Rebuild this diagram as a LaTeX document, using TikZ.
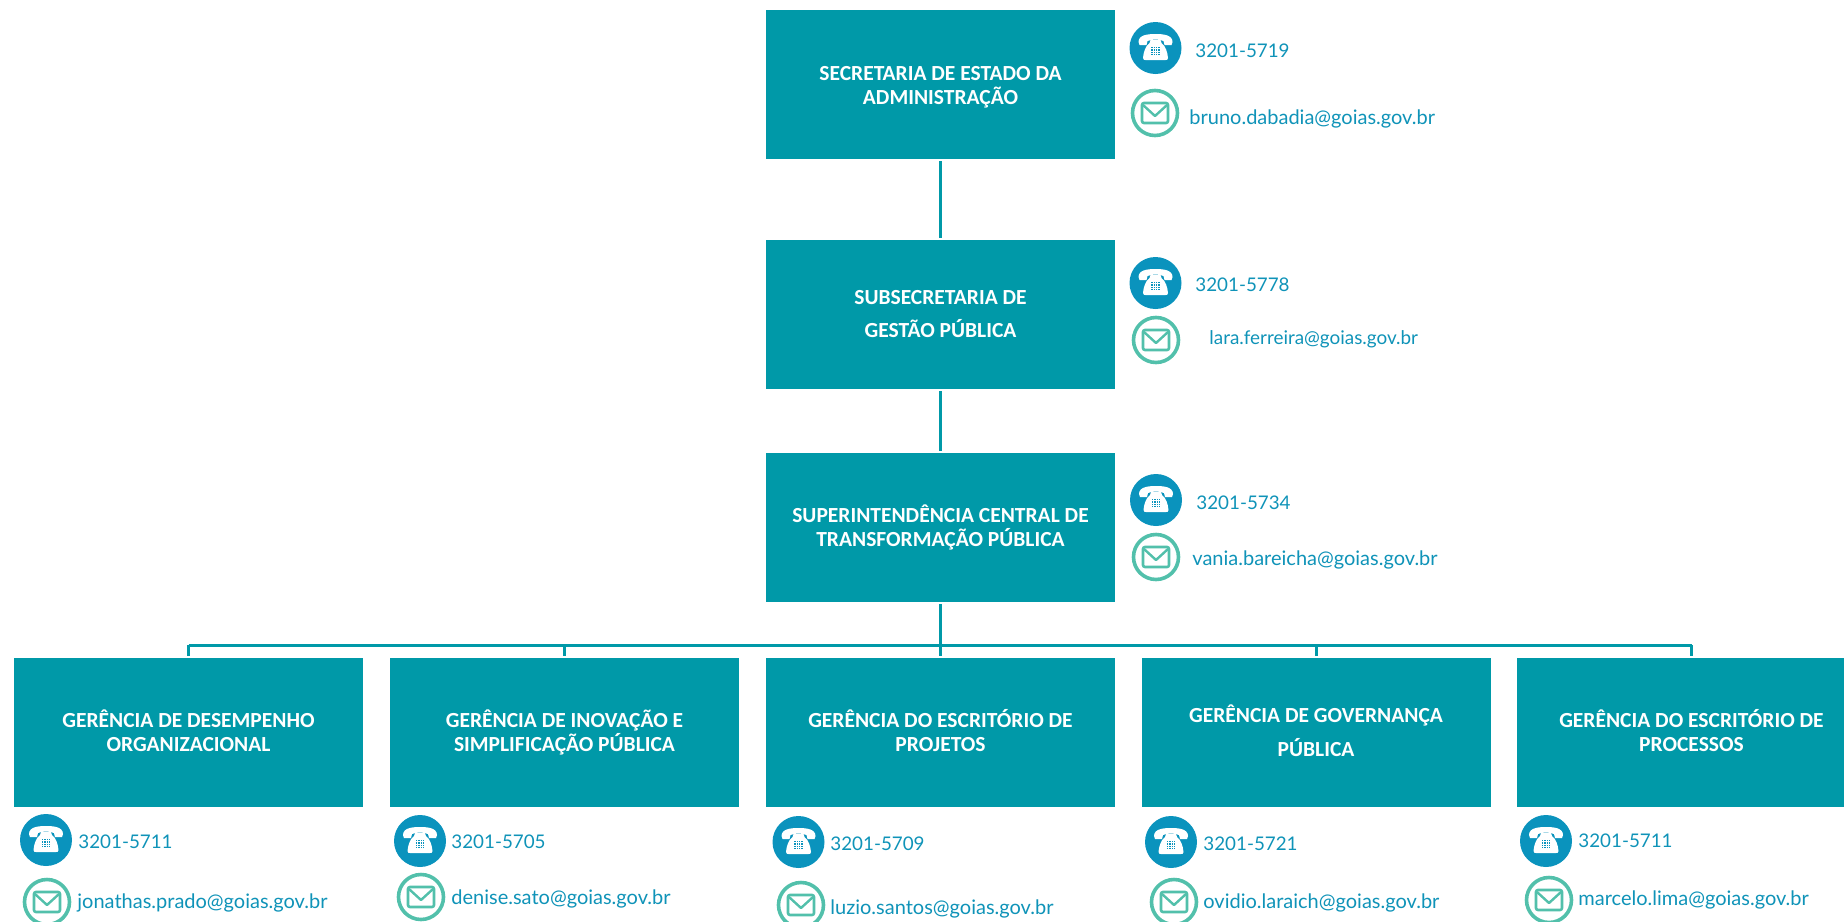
\documentclass[tikz,border=0pt]{standalone}
\usepackage{fontspec}
\setmainfont{Carlito}
\newfontfamily\contactfont{Lato}
\definecolor{boxteal}{HTML}{0099A8}
\definecolor{phoneblue}{HTML}{0A93BD}
\definecolor{mailgreen}{HTML}{52C0AB}
\definecolor{inktext}{HTML}{0F93B8}
\newlength{\pxu}\setlength{\pxu}{0.5pt}
\tikzset{
 orgbox/.style={fill=boxteal,minimum width=349\pxu,minimum height=149\pxu,inner sep=0pt,outer sep=0pt,text=white,align=center,font=\fontsize{10.75}{12.2}\selectfont\bfseries},
 conn/.style={draw=boxteal,line width=1.5pt,shorten >=2\pxu,shorten <=2\pxu},
 bus/.style={draw=boxteal,line width=1.5pt},
 phonetext/.style={anchor=west,inner sep=0pt,text=inktext,font=\contactfont\fontsize{9.4}{11}\selectfont},
 mailtext/.style={anchor=west,inner sep=0pt,text=inktext,font=\contactfont\fontsize{10}{11}\selectfont},
 phonedisc/.style={circle,fill=phoneblue,minimum size=52\pxu,inner sep=0pt},
 maildisc/.style={circle,draw=mailgreen,line width=1.8pt,fill=white,minimum size=45\pxu,inner sep=0pt},
}
\tikzset{
 phoneglyph/.pic={
  \fill[white] (-17,-6) .. controls (-17,-13) and (-8,-14) .. (0,-14) .. controls (8,-14) and (17,-13) .. (17,-6) -- (16,-3) -- (9,-3) -- (8,-7) .. controls (3,-9) and (-3,-9) .. (-8,-7) -- (-9,-3) -- (-16,-3) -- cycle;
  \fill[white] (-5,-8) -- (5,-8) -- (6,-5) .. controls (10,-2) and (12,4) .. (12.5,10) .. controls (12.5,12) and (11,12) .. (10,12) -- (-10,12) .. controls (-11,12) and (-12.5,12) .. (-12.5,10) .. controls (-12,4) and (-10,-2) .. (-6,-5) -- cycle;
  \foreach \gx in {-3.6,-1.2,1.2,3.6}
   \foreach \gy in {-0.6,1.8,4.2,6.6}
    \fill[phoneblue] (\gx-0.7,\gy-0.7) rectangle (\gx+0.7,\gy+0.7);
 },
 mailglyph/.pic={
  \draw[mailgreen,line width=1.3pt,rounded corners=2\pxu] (-13,-10) rectangle (13,10);
  \draw[mailgreen,line width=1.2pt,line join=round] (-12,-8) -- (0,3) -- (12,-8);
 },
}
\newcommand{\contactrow}[9]{%
 \node[phonedisc] (p#1) at (#2,#3) {};
 \pic at (p#1.center) {phoneglyph};
 \node[phonetext] (pt#1) at (#4,#5) {\csname tel#1\endcsname};
 \node[maildisc] (m#1) at (#6,#7) {};
 \pic at (m#1.center) {mailglyph};
 \node[mailtext] (mt#1) at (#8,#9) {\csname em#1\endcsname};
}
\expandafter\def\csname tela\endcsname{3201-5719}\expandafter\def\csname ema\endcsname{bruno.dabadia@goias.gov.br}
\expandafter\def\csname telb\endcsname{3201-5778}\expandafter\def\csname emb\endcsname{\fontsize{9.45}{11}\selectfont lara.ferreira@goias.gov.br}
\expandafter\def\csname telc\endcsname{3201-5734}\expandafter\def\csname emc\endcsname{vania.bareicha@goias.gov.br}
\expandafter\def\csname teld\endcsname{3201-5711}\expandafter\def\csname emd\endcsname{jonathas.prado@goias.gov.br}
\expandafter\def\csname tele\endcsname{3201-5705}\expandafter\def\csname eme\endcsname{denise.sato@goias.gov.br}
\expandafter\def\csname telf\endcsname{3201-5709}\expandafter\def\csname emf\endcsname{luzio.santos@goias.gov.br}
\expandafter\def\csname telg\endcsname{3201-5721}\expandafter\def\csname emg\endcsname{ovidio.laraich@goias.gov.br}
\expandafter\def\csname telh\endcsname{3201-5711}\expandafter\def\csname emh\endcsname{marcelo.lima@goias.gov.br}
\begin{document}
\begin{tikzpicture}[x=0.5pt,y=-0.5pt]
\useasboundingbox (0,0) rectangle (1844,922);
\clip (0,0) rectangle (1844,922);
\node[orgbox] (sec) at (940.5,84.5) {\rule{0pt}{10pt}SECRETARIA DE ESTADO DA\\ADMINISTRAÇÃO};
\node[orgbox,font=\fontsize{10.75}{16.5}\selectfont\bfseries] (sub) at (940.5,314.5) {SUBSECRETARIA DE\\GESTÃO PÚBLICA};
\node[orgbox] (sup) at (940.5,527.5) {SUPERINTENDÊNCIA CENTRAL DE\\TRANSFORMAÇÃO PÚBLICA};
\node[orgbox] (g1) at (188.5,732.5) {GERÊNCIA DE DESEMPENHO\\ORGANIZACIONAL\rule[-2pt]{0pt}{2pt}};
\node[orgbox] (g2) at (564.5,732.5) {GERÊNCIA DE INOVAÇÃO E\\SIMPLIFICAÇÃO PÚBLICA\rule[-2pt]{0pt}{2pt}};
\node[orgbox] (g3) at (940.5,732.5) {GERÊNCIA DO ESCRITÓRIO DE\\PROJETOS\rule[-2pt]{0pt}{2pt}};
\node[orgbox,font=\fontsize{10.75}{17}\selectfont\bfseries] (g4) at (1316,732.5) {GERÊNCIA DE GOVERNANÇA\\PÚBLICA\rule[-2pt]{0pt}{2pt}};
\node[orgbox] (g5) at (1691.5,732.5) {GERÊNCIA DO ESCRITÓRIO DE\\PROCESSOS\rule[-2pt]{0pt}{2pt}};
\draw[conn] (sec) -- (sub);
\draw[conn] (sub) -- (sup);
\draw[conn] (sup) -- (g3);
\coordinate (busl) at (g1.north |- 0,645);
\coordinate (busr) at (g5.north |- 0,645);
\coordinate (bus2) at (g2.north |- 0,645);
\coordinate (bus4) at (g4.north |- 0,645);
\draw[bus] (busl) -- (busr);
\foreach \bp/\bx in {busl/g1,bus2/g2,bus4/g4,busr/g5}
 \draw[bus,shorten >=2\pxu] (\bp) -- (\bx.north);
\contactrow{a}{1155.5}{48}{1195}{50.5}{1155}{113}{1189}{118.5}
\contactrow{b}{1155.5}{283}{1195}{285}{1156}{340}{1209}{339.5}
\contactrow{c}{1156}{500}{1196}{503}{1156}{557}{1192}{559.5}
\contactrow{d}{46}{840}{78}{842}{47}{902}{77}{903}
\contactrow{e}{420}{841}{451}{842}{421}{897}{451}{898.5}
\contactrow{f}{798.5}{842}{830}{844}{801}{905}{830}{909}
\contactrow{g}{1171}{842}{1203}{844}{1174}{902}{1203}{903}
\contactrow{h}{1546}{841}{1578}{841}{1549}{900}{1578}{900}
\end{tikzpicture}
\end{document}
